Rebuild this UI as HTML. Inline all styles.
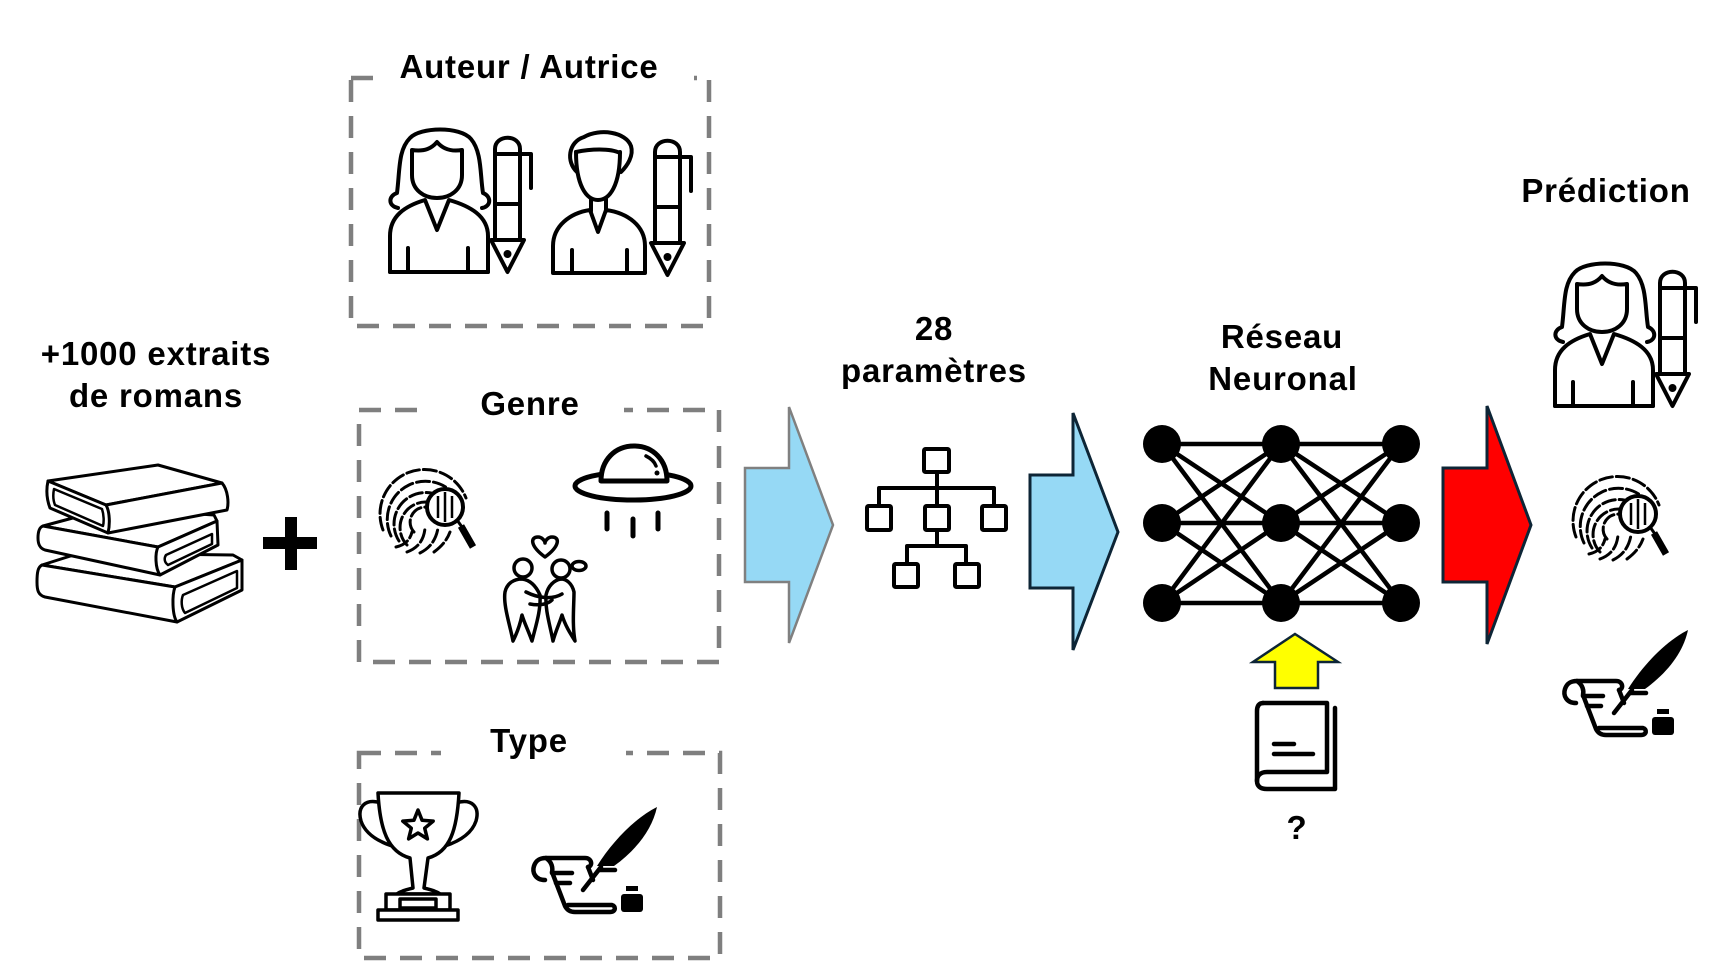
<!DOCTYPE html>
<html>
<head>
<meta charset="utf-8">
<style>
  html,body{margin:0;padding:0;background:#fff;}
  svg{display:block;}
  text{font-family:"Liberation Sans",Arial,sans-serif;font-weight:bold;font-size:33px;fill:#000;text-anchor:middle;letter-spacing:0.8px;}
</style>
</head>
<body>
<svg width="1723" height="967" viewBox="0 0 1723 967" xmlns="http://www.w3.org/2000/svg">
  <defs>
    <g id="pen" fill="none" stroke="#000" stroke-width="4" stroke-linejoin="round" stroke-linecap="round">
      <path d="M495 240 V149 C495 134 520 134 520 149 V240 Z" fill="#fff"/>
      <path d="M495 154 H531 V188"/>
      <path d="M495 204 H520"/>
      <path d="M491 240 H524 L507.5 272 Z" fill="#fff"/>
      <circle cx="507.5" cy="254" r="2" fill="#000"/>
    </g>
    <g id="woman" fill="none" stroke="#000" stroke-width="4" stroke-linejoin="round" stroke-linecap="round">
      <path d="M398 208 C388 206 388 196 397 193 C400 170 398 150 410 138 C420 127 460 126 471 139 C482 152 480 175 483 193 C491 196 492 206 482 208"/>
      <path d="M390 272 L390 236 C390 216 405 206 425 200 L437 230 L449 200 C470 206 488 216 488 236 L488 272 Z" fill="#fff"/>
      <path d="M412 150 C425 152 432 148 437 142 C442 148 450 152 462 150 L462 175 C462 190 450 198 437 198 C424 198 412 190 412 175 Z" fill="#fff"/>
      <path d="M408 248 V272 M468 248 V272"/>
      <path d="M390 272 H488"/>
    </g>
    <g id="fprint">
      <g fill="none" stroke="#000" stroke-width="3" stroke-dasharray="13 4" stroke-linecap="round">
        <path d="M383 530 A44 44 0 0 1 466 498"/>
        <path d="M391 536 A36 36 0 0 1 460 503"/>
        <path d="M399 541 A28 28 0 0 1 452 507"/>
        <path d="M407 545 A20 20 0 0 1 444 510"/>
        <path d="M414 532 A12 12 0 0 1 436 512"/>
        <path d="M396 547 C405 545 410 540 412 532"/>
        <path d="M407 552 C418 548 424 540 425 528"/>
        <path d="M420 553 C430 548 436 540 438 528"/>
        <path d="M434 552 C442 546 447 540 450 532"/>
      </g>
      <circle cx="445" cy="507" r="18" fill="#fff" stroke="#000" stroke-width="4"/>
      <path d="M438 496 V518 M445 492 V522 M452 496 V518" stroke="#000" stroke-width="2.5"/>
      <path d="M457 520 L462 527" stroke="#000" stroke-width="3"/>
      <path d="M461 526 L473 547" stroke="#000" stroke-width="7"/>
    </g>
    <g id="quill">
      <path d="M657 807 C635 818 612 842 597 866 L614 866 C636 850 652 830 657 807 Z" fill="#000"/>
      <g fill="none" stroke="#000" stroke-width="4.5" stroke-linecap="round" stroke-linejoin="round">
        <path d="M545 880 C535 880 532 872 534 866 C536 860 540 858 546 858 L585 858 C592 858 593 866 588 867"/>
        <path d="M546 858 C552 862 553 868 552 872 L565 906 C567 910 570 912 575 912 L610 912 C616 912 616 906 612 905 L568 905"/>
        <path d="M588 867 L593 880"/>
        <path d="M552 873 H572 M556 883 H570"/>
        <path d="M600 870 H615"/>
        <path d="M601 867 L583 890"/>
      </g>
      <rect x="621" y="894" width="22" height="18" rx="3" fill="#000"/>
      <rect x="626" y="886" width="12" height="5" fill="#000"/>
    </g>
  </defs>

  <!-- Dashed boxes -->
  <g fill="none" stroke="#7f7f7f" stroke-width="4.5" stroke-dasharray="22 14">
    <rect x="351" y="78" width="358" height="248"/>
    <rect x="359" y="410" width="360" height="252"/>
    <rect x="359" y="753" width="361" height="205"/>
  </g>
  <rect x="373" y="70" width="321" height="16" fill="#fff"/>
  <rect x="420" y="402" width="204" height="16" fill="#fff"/>
  <rect x="441" y="745" width="185" height="16" fill="#fff"/>

  <!-- Labels -->
  <text x="529" y="78">Auteur / Autrice</text>
  <text x="156" y="365">+1000 extraits</text>
  <text x="156" y="407">de romans</text>
  <text x="530" y="415">Genre</text>
  <text x="529" y="752">Type</text>
  <text x="934" y="340">28</text>
  <text x="934" y="382">paramètres</text>
  <text x="1282" y="348">Réseau</text>
  <text x="1283" y="390">Neuronal</text>
  <text x="1606" y="202">Prédiction</text>
  <text x="1297" y="839">?</text>

  <!-- Author icons -->
  <use href="#woman"/>
  <use href="#pen"/>
  <g fill="none" stroke="#000" stroke-width="4" stroke-linejoin="round" stroke-linecap="round">
    <path d="M553 273 L553 246 C553 226 570 213 590 210 L598 232 L606 210 C628 213 645 226 645 246 L645 273 Z" fill="#fff"/>
    <path d="M591 197 V211 M606 197 V211"/>
    <path d="M576 152 C576 185 586 200 598 200 C610 200 620 185 620 152" fill="#fff"/>
    <path d="M577 172 C566 162 568 142 584 137 C600 128 626 132 631 146 C634 156 627 166 621 172"/>
    <path d="M576 152 C590 149 610 148 620 153"/>
    <path d="M572 250 V273 M627 250 V273"/>
  </g>
  <use href="#pen" transform="translate(160,3)"/>

  <!-- Books -->
  <g fill="#fff" stroke="#000" stroke-width="3" stroke-linejoin="round">
    <path d="M42 565 L80 553 L233 555 L242 560 L175 587 Z"/>
    <path d="M42 565 L175 587 L177 622 L45 597 C38 595 37 590 37 582 C37 572 38 567 42 565 Z"/>
    <path d="M175 587 L242 560 L242 590 L177 622 C172 615 172 595 175 587 Z"/>
    <path d="M183 595 L237 571 L237 588 L185 613 C181 608 181 600 183 595 Z" stroke-width="2.5"/>
    <path d="M43 526 L110 508 L214 515 L217 521 L158 547 Z"/>
    <path d="M43 526 L158 547 L160 575 L45 550 C39 548 38 543 38 538 C38 531 40 527 43 526 Z"/>
    <path d="M158 547 L217 521 L218 545 L160 575 C155 568 155 553 158 547 Z"/>
    <path d="M166 555 L212 534 L212 544 L168 565 C164 562 164 558 166 555 Z" stroke-width="2.5"/>
    <path d="M48 481 L158 465 L222 483 L106 505 Z"/>
    <path d="M106 505 L222 483 C228 490 229 503 227 510 L108 533 Z"/>
    <path d="M48 481 L106 505 C110 512 110 525 108 533 L50 508 C47 500 46 490 48 481 Z"/>
    <path d="M54 489 L102 509 C104 515 104 522 103 526 L55 505 C53 500 53 494 54 489 Z" stroke-width="2.5"/>
  </g>
  <!-- Plus -->
  <rect x="285" y="517" width="12" height="53" fill="#000"/>
  <rect x="263" y="537" width="54" height="12" fill="#000"/>

  <!-- Genre icons -->
  <use href="#fprint"/>
  <g fill="none" stroke="#000" stroke-width="5" stroke-linecap="round" stroke-linejoin="round">
    <ellipse cx="633" cy="486" rx="58" ry="14" fill="#fff"/>
    <path d="M601 481 C601 460 615 446 634 446 C653 446 667 460 667 481 Z" fill="#fff"/>
    <path d="M646 456 C652 459 655 463 656 466" stroke-width="3.5"/>
    <path d="M607 513 V529 M633 519 V536 M658 513 V529"/>
  </g>
  <circle cx="657" cy="473" r="2.5" fill="#000"/>
  <g fill="none" stroke="#000" stroke-width="3.5" stroke-linecap="round" stroke-linejoin="round">
    <path d="M545 557 C530 546 530 537 538 537 C542 537 545 541 545 543 C545 541 548 537 552 537 C560 537 560 546 545 557 Z"/>
    <circle cx="523" cy="568" r="9"/>
    <circle cx="561" cy="569" r="9"/>
    <ellipse cx="579" cy="566" rx="7" ry="4.5"/>
    <path d="M513 641 C510 625 503 605 505 592 C507 583 514 579 522 579 C530 580 536 586 540 595 C541 610 536 625 532 641 C528 630 524 622 522 615 C520 625 517 633 513 641 Z" fill="#fff"/>
    <path d="M575 641 C572 625 574 605 574 592 C572 583 566 579 561 579 C554 580 548 586 546 595 C545 610 550 625 553 641 C556 630 560 622 562 615 C565 625 570 633 575 641 Z" fill="#fff"/>
    <path d="M526 592 C538 598 552 600 562 594"/>
    <path d="M530 604 C540 606 548 604 552 600"/>
  </g>

  <!-- Type icons -->
  <g fill="none" stroke="#000" stroke-width="3.5" stroke-linejoin="round" stroke-linecap="round">
    <path d="M381 803 C365 798 357 807 361 821 C365 833 377 841 392 846"/>
    <path d="M456 803 C472 798 480 807 476 821 C472 833 460 841 445 846"/>
    <path d="M378 793 L459 793 C457 830 450 852 428 858 L424 888 C432 890 438 892 440 894 L397 894 C399 892 405 890 413 888 L410 858 C388 852 380 830 378 793 Z" fill="#fff"/>
    <path d="M418 810 L422.1 820.3 L433.2 821.1 L424.7 828.2 L427.4 838.9 L418 833 L408.6 838.9 L411.3 828.2 L402.8 821.1 L413.9 820.3 Z"/>
    <rect x="386" y="894" width="64" height="16" fill="#fff"/>
    <rect x="400" y="899" width="36" height="9"/>
    <rect x="378" y="910" width="80" height="10" fill="#fff"/>
  </g>
  <use href="#quill"/>

  <!-- Arrows -->
  <polygon points="745,468 789,468 789,407 833,525 789,643 789,582 745,582" fill="#96d9f5" stroke="#808080" stroke-width="2.5"/>
  <polygon points="1030,475 1073,475 1073,413 1118,532 1073,650 1073,588 1030,588" fill="#96d9f5" stroke="#0d2536" stroke-width="3"/>
  <polygon points="1443,468 1487,468 1487,406 1531,525 1487,644 1487,582 1443,582" fill="#ff0000" stroke="#0d2536" stroke-width="3"/>
  <polygon points="1295,634 1338,662 1318,662 1318,688 1275,688 1275,662 1253,662" fill="#ffff00" stroke="#0d2536" stroke-width="2.5"/>

  <!-- Hierarchy -->
  <g fill="none" stroke="#000" stroke-width="4" stroke-linejoin="round">
    <rect x="924" y="449" width="25" height="23" rx="1.5"/>
    <rect x="867" y="506" width="24" height="24" rx="1.5"/>
    <rect x="925" y="506" width="24" height="24" rx="1.5"/>
    <rect x="982" y="506" width="24" height="24" rx="1.5"/>
    <rect x="894" y="564" width="24" height="23" rx="1.5"/>
    <rect x="955" y="564" width="24" height="23" rx="1.5"/>
    <path d="M937 474 V504 M879 504 V488 H994 V504"/>
    <path d="M937 532 V546 M907 562 V546 H966 V562"/>
  </g>

  <!-- Neural network -->
  <g stroke="#000" stroke-width="4.5">
    <path d="M1162 444 L1281 444 M1162 444 L1281 523 M1162 444 L1281 603
             M1162 523 L1281 444 M1162 523 L1281 523 M1162 523 L1281 603
             M1162 603 L1281 444 M1162 603 L1281 523 M1162 603 L1281 603
             M1281 444 L1401 444 M1281 444 L1401 523 M1281 444 L1401 603
             M1281 523 L1401 444 M1281 523 L1401 523 M1281 523 L1401 603
             M1281 603 L1401 444 M1281 603 L1401 523 M1281 603 L1401 603"/>
  </g>
  <g fill="#000">
    <circle cx="1162" cy="444" r="19"/><circle cx="1281" cy="444" r="19"/><circle cx="1401" cy="444" r="19"/>
    <circle cx="1162" cy="523" r="19"/><circle cx="1281" cy="523" r="19"/><circle cx="1401" cy="523" r="19"/>
    <circle cx="1162" cy="603" r="19"/><circle cx="1281" cy="603" r="19"/><circle cx="1401" cy="603" r="19"/>
  </g>

  <!-- Book icon -->
  <g fill="none" stroke="#000" stroke-width="4.5" stroke-linecap="round" stroke-linejoin="round">
    <path d="M1263 703 L1327 703 L1327 772 L1267 772 C1259 772 1257 777 1257 781 C1257 786 1260 789 1267 789 L1335 789 L1335 708"/>
    <path d="M1263 703 C1259 703 1257 706 1257 711 L1257 781"/>
    <path d="M1274 744 H1294 M1274 754 H1313"/>
  </g>

  <!-- Prediction icons -->
  <use href="#woman" transform="translate(1165,134)"/>
  <use href="#pen" transform="translate(1165,134)"/>
  <use href="#fprint" transform="translate(1193,7)"/>
  <use href="#quill" transform="translate(1031,-177)"/>
</svg>
</body>
</html>
